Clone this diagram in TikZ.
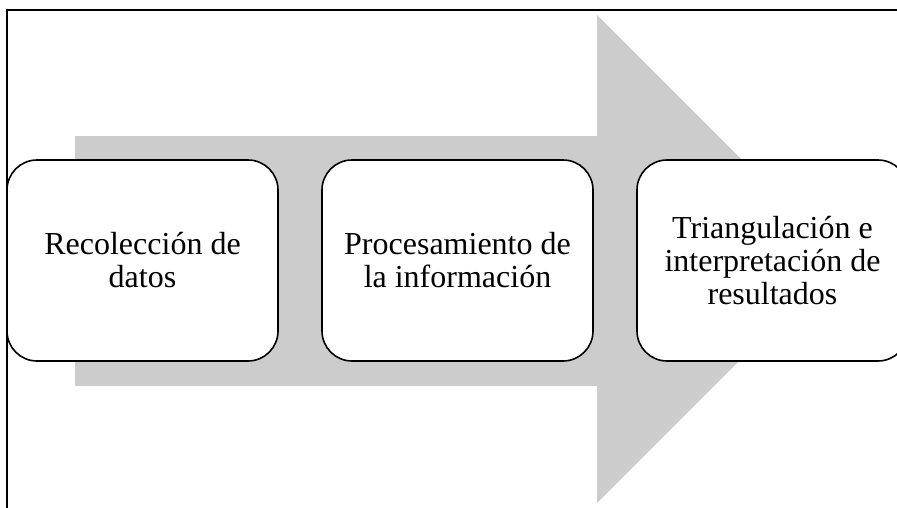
\documentclass[tikz,border=0pt]{standalone}
\usepackage{fontspec}
\setmainfont{Liberation Serif}
\begin{document}
\begin{tikzpicture}[x=1pt,y=-1pt,
    stepbox/.style={draw=black,fill=white,line width=1.6pt,rounded corners=30pt,
        minimum width=271pt,minimum height=201pt,align=center,
        font=\fontsize{32}{33}\selectfont}]
        \useasboundingbox (0,0) rectangle (897,507);
        \clip (0,0) rectangle (897,507);
        \draw[line width=1.3pt] (7,530) -- (7,10) -- (920,10);
        % big grey arrow behind the steps
        \fill[black!20] (75,136) -- (597,136) -- (597,15) -- (841,259) -- (597,503) -- (597,386) -- (75,386) -- cycle;
        \node[stepbox] (recoleccion) at (142.5,260.5) {Recolección de\\datos};
        \node[stepbox] (procesamiento) at (457.5,260.5) {Procesamiento de\\la información};
        \node[stepbox] (triangulacion) at (772.5,260.5) {Triangulación e\\interpretación de\\resultados};
    \end{tikzpicture}
\end{document}
